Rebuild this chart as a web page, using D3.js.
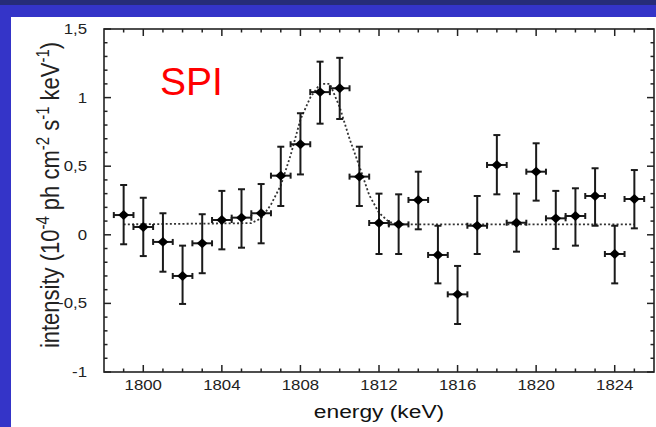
<!DOCTYPE html>
<meta charset="utf-8" />
<title>SPI line</title>
<script src="https://cdn.jsdelivr.net/npm/d3@7"></script>

<style>
  body {
    margin: 0;
    padding: 0;
    background: #3434c8;
    font-family: "Liberation Sans", Arial, sans-serif;
  }

  .frame {
    fill: none;
    stroke: #222;
    stroke-width: 1.6;
  }

  .tick-label {
    font-size: 14px;
    fill: #222;
  }

  .err {
    stroke: #1a1a1a;
    stroke-width: 2;
    fill: none;
  }

  .fit {
    fill: none;
    stroke: #333;
    stroke-width: 1.8;
    stroke-dasharray: 2, 2.2;
  }
</style>

<body>
  <div id="chart"></div>
</body>

<script>
  // measured points
  const energy = [1799, 1800, 1801, 1802, 1803, 1804, 1805, 1806, 1807, 1808, 1809, 1810, 1811,
    1812, 1813, 1814, 1815, 1816, 1817, 1818, 1819, 1820, 1821, 1822, 1823, 1824, 1825];
  const intensity = [0.144, 0.057, -0.052, -0.30, -0.062, 0.108, 0.125, 0.157, 0.431, 0.66, 1.04, 1.068, 0.424,
    0.086, 0.076, 0.254, -0.147, -0.434, 0.066, 0.509, 0.088, 0.46, 0.12, 0.137, 0.283, -0.14, 0.261];
  const errUp = [0.363, 0.27, 0.157, -0.079, 0.15, 0.32, 0.332, 0.37, 0.642, 0.886, 1.262, 1.29, 0.642,
    0.30, 0.295, 0.46, 0.066, -0.227, 0.283, 0.727, 0.30, 0.667, 0.32, 0.339, 0.485, 0.066, 0.472];
  const errDown = [-0.069, -0.155, -0.269, -0.504, -0.28, -0.106, -0.094, -0.062, 0.21, 0.44, 0.81, 0.844, 0.21,
    -0.14, -0.14, 0.04, -0.354, -0.65, -0.14, 0.295, -0.123, 0.249, -0.103, -0.079, 0.066, -0.354, 0.047];
  const binHalf = 0.5;

  // fitted line (dotted)
  const fitE = [1799, 1805.5, 1806, 1806.5, 1807, 1807.5, 1808, 1808.5, 1809, 1809.5, 1810, 1810.5,
    1811, 1811.5, 1812, 1812.5, 1813, 1825];
  const fitV = [0.076, 0.085, 0.12, 0.22, 0.36, 0.58, 0.84, 1.0, 1.1, 1.1, 0.93, 0.7,
    0.5, 0.29, 0.16, 0.095, 0.076, 0.076];

  const xTicks = [1800, 1804, 1808, 1812, 1816, 1820, 1824];
  const yTicks = [-1, -0.5, 0, 0.5, 1, 1.5];

  const W = 656, H = 427;
  const margin = { top: 29, right: 2, bottom: 55, left: 104 },
    width = W - margin.left - margin.right,
    height = H - margin.top - margin.bottom;

  // the source picture is stretched sideways a little
  const stretch = 1.2;

  const svg = d3.select("#chart").append("svg")
    .attr("width", W)
    .attr("height", H);

  // top dark strip + white panel
  svg.append("rect").attr("x", 0).attr("y", 0).attr("width", W).attr("height", 5).style("fill", "#262c78");
  svg.append("rect").attr("x", 11).attr("y", 17).attr("width", W - 11).attr("height", H - 17).style("fill", "#fff");

  const g = svg.append("g")
    .attr("transform", "translate(" + margin.left + "," + margin.top + ")");

  const x = d3.scaleLinear().domain([1798, 1826]).range([0, width]);
  const y = d3.scaleLinear().domain([-1, 1.5]).range([height, 0]);

  const fmt = function (d) { return String(d).replace(".", ","); };

  // ticks, all pointing inward
  const xMinor = d3.range(1799, 1826, 1);
  const yMinor = d3.range(-10, 16, 1).map(function (d) { return d / 10; });

  function tickLines(sel, vals, isX, edge, dir) {
    sel.selectAll(null).data(vals).enter().append("line")
      .attr("x1", function (d) { return isX ? x(d) : edge; })
      .attr("x2", function (d) {
        if (isX) return x(d);
        const len = (Math.abs(d * 2 - Math.round(d * 2)) < 1e-6) ? 7 : 3.5;
        return edge + dir * len;
      })
      .attr("y1", function (d) { return isX ? edge : y(d); })
      .attr("y2", function (d) {
        if (!isX) return y(d);
        const len = (d % 4 === 0) ? 7 : 3.5;
        return edge + dir * len;
      })
      .style("stroke", "#222")
      .style("stroke-width", 1.5);
  }
  tickLines(g, xMinor, true, height, -1);
  tickLines(g, xMinor, true, 0, 1);
  tickLines(g, yMinor, false, 0, 1);
  tickLines(g, yMinor, false, width, -1);

  g.append("rect").attr("class", "frame")
    .attr("x", 0).attr("y", 0).attr("width", width).attr("height", height);

  g.selectAll(".xl").data(xTicks).enter().append("g")
    .attr("transform", function (d) { return "translate(" + x(d) + "," + (height + 18) + ") scale(" + stretch + ",1)"; })
    .append("text")
    .attr("class", "tick-label")
    .attr("text-anchor", "middle")
    .text(function (d) { return d; });

  g.selectAll(".yl").data(yTicks).enter().append("g")
    .attr("transform", function (d) { return "translate(-17," + (y(d) + 5) + ") scale(" + stretch + ",1)"; })
    .append("text")
    .attr("class", "tick-label")
    .attr("text-anchor", "end")
    .text(fmt);

  // fit
  const line = d3.line()
    .x(function (d, i) { return x(fitE[i]); })
    .y(function (d) { return y(d); });
  g.append("path").datum(fitV).attr("class", "fit").attr("d", line);

  // error bars
  const pts = energy.map(function (e, i) {
    return { e: e, v: intensity[i], hi: errUp[i], lo: errDown[i] };
  });
  const eb = g.selectAll(".pt").data(pts).enter().append("g");
  eb.append("line").attr("class", "err")
    .attr("x1", function (d) { return x(d.e); }).attr("x2", function (d) { return x(d.e); })
    .attr("y1", function (d) { return y(d.hi); }).attr("y2", function (d) { return y(d.lo); });
  eb.append("line").attr("class", "err")
    .attr("x1", function (d) { return x(d.e) - 3.5; }).attr("x2", function (d) { return x(d.e) + 3.5; })
    .attr("y1", function (d) { return y(d.hi); }).attr("y2", function (d) { return y(d.hi); });
  eb.append("line").attr("class", "err")
    .attr("x1", function (d) { return x(d.e) - 3.5; }).attr("x2", function (d) { return x(d.e) + 3.5; })
    .attr("y1", function (d) { return y(d.lo); }).attr("y2", function (d) { return y(d.lo); });
  eb.append("line").attr("class", "err")
    .attr("x1", function (d) { return x(d.e - binHalf); }).attr("x2", function (d) { return x(d.e + binHalf); })
    .attr("y1", function (d) { return y(d.v); }).attr("y2", function (d) { return y(d.v); });
  eb.append("line").attr("class", "err")
    .attr("x1", function (d) { return x(d.e - binHalf); }).attr("x2", function (d) { return x(d.e - binHalf); })
    .attr("y1", function (d) { return y(d.v) - 3; }).attr("y2", function (d) { return y(d.v) + 3; });
  eb.append("line").attr("class", "err")
    .attr("x1", function (d) { return x(d.e + binHalf); }).attr("x2", function (d) { return x(d.e + binHalf); })
    .attr("y1", function (d) { return y(d.v) - 3; }).attr("y2", function (d) { return y(d.v) + 3; });

  // diamonds
  g.selectAll(".dm").data(pts).enter().append("path")
    .attr("d", d3.symbol().type(d3.symbolDiamond2).size(62))
    .attr("transform", function (d) { return "translate(" + x(d.e) + "," + y(d.v) + ") scale(1.1,1)"; })
    .style("fill", "#000");

  // labels
  svg.append("text")
    .attr("x", 160).attr("y", 95)
    .style("font-size", "39px")
    .style("fill", "#ff0000")
    .text("SPI");

  svg.append("g")
    .attr("transform", "translate(" + (margin.left + width / 2) + ",418) scale(" + stretch + ",1)")
    .append("text")
    .attr("text-anchor", "middle")
    .style("font-size", "19px")
    .style("fill", "#111")
    .text("energy (keV)");

  const yl = svg.append("text")
    .attr("transform", "translate(49,195) scale(" + stretch + ",1) rotate(-90)")
    .attr("text-anchor", "middle")
    .style("font-size", "22px")
    .style("fill", "#222");
  const parts = [["intensity (10", false], ["-4", true], [" ph cm", false], ["-2", true],
    [" s", false], ["-1", true], [" keV", false], ["-1", true], [")", false]];
  parts.forEach(function (p) {
    yl.append("tspan")
      .attr("dy", p[1] ? -8 : (yl.node().childNodes.length ? 8 : 0))
      .style("font-size", p[1] ? "15px" : "22px")
      .text(p[0]);
  });
</script>
